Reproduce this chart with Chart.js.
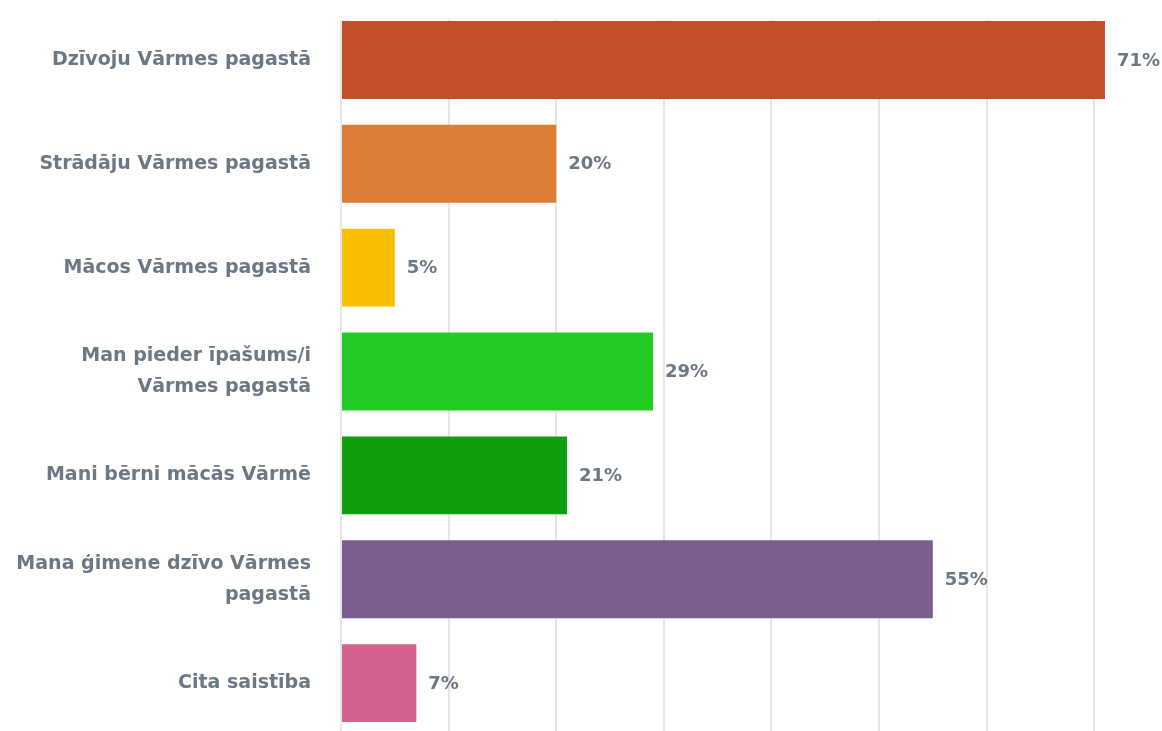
<!DOCTYPE html>
<html><head><meta charset="utf-8">
<script src="https://cdn.jsdelivr.net/npm/chart.js@4"></script>
<style>html,body{margin:0;padding:0;background:#fff;overflow:hidden;width:1162px;height:731px}</style>
</head><body>
<canvas id="c" width="1162" height="740"></canvas>
<script>
const categories = [
  "Dzīvoju Vārmes pagastā",
  "Strādāju Vārmes pagastā",
  "Mācos Vārmes pagastā",
  ["Man pieder īpašums/i", "Vārmes pagastā"],
  "Mani bērni mācās Vārmē",
  ["Mana ģimene dzīvo Vārmes", "pagastā"],
  "Cita saistība"
];
const values = [71, 20, 5, 29, 21, 55, 7];
const barColors = ["#C4502A", "#DE7D35", "#F7BF00", "#24CB22", "#0E9E0E", "#7B5D8F", "#D4608F"];
const gridTicks = [0, 10, 20, 30, 40, 50, 60, 70];

const textColor = "#6b7886";
const fontFamily = "'DejaVu Sans', sans-serif";

const valueLabels = {
  id: 'valueLabels',
  beforeDatasetsDraw(chart) {
    const {ctx, chartArea} = chart;
    ctx.save();
    ctx.fillStyle = '#fff';
    ctx.fillRect(chartArea.left - 2, chartArea.top - 10, chartArea.right - chartArea.left + 4, 22);
    ctx.restore();
  },
  afterDatasetsDraw(chart) {
    const {ctx} = chart;
    const meta = chart.getDatasetMeta(0);
    ctx.save();
    ctx.fillStyle = textColor;
    ctx.font = "bold 18px " + fontFamily;
    ctx.textAlign = 'left';
    ctx.textBaseline = 'middle';
    meta.data.forEach((bar, i) => {
      ctx.fillText(values[i] + '%', bar.x + 12, bar.y + 1);
    });
    ctx.restore();
  }
};

new Chart(document.getElementById('c'), {
  type: 'bar',
  data: {
    labels: categories,
    datasets: [{
      data: values,
      backgroundColor: barColors,
      borderWidth: 0,
      categoryPercentage: 1,
      barPercentage: 0.75
    }]
  },
  options: {
    indexAxis: 'y',
    responsive: false,
    animation: false,
    layout: {padding: {top: 8, right: 0, bottom: 0, left: 0}},
    plugins: {legend: {display: false}, tooltip: {enabled: false}},
    scales: {
      x: {
        min: 0,
        max: 76.3,
        afterBuildTicks(scale) { scale.ticks = gridTicks.map(v => ({value: v})); },
        afterFit(scale) { scale.height = 5; scale.paddingLeft = 0; scale.paddingRight = 0; },
        ticks: {display: false},
        grid: {color: '#e6e6e6', lineWidth: 2, drawTicks: false},
        border: {display: false}
      },
      y: {
        afterFit(scale) { scale.width = 341; scale.paddingTop = 0; scale.paddingBottom = 0; },
        grid: {display: false, drawTicks: false},
        border: {display: false},
        ticks: {
          color: textColor,
          padding: 30,
          font: {family: fontFamily, size: 19, weight: 'bold', lineHeight: '31px'}
        }
      }
    }
  },
  plugins: [valueLabels]
});
</script>
</body></html>
